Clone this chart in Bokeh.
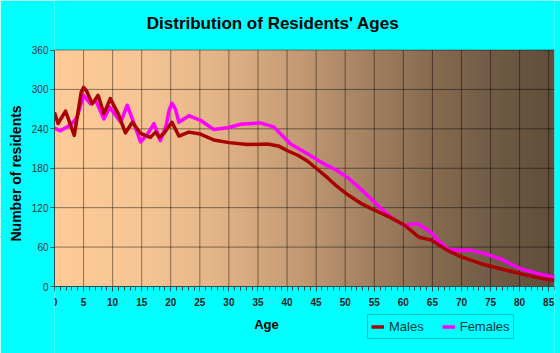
import numpy as np
from bokeh.plotting import figure
from bokeh.models import Range1d, SingleIntervalTicker, FixedTicker, Label, Legend, LegendItem, Title
from bokeh.embed import file_html
from bokeh.resources import INLINE

title_text = "Distribution of Residents' Ages"
x_label = "Age"
y_label = "Number of residents"

x_ticks = [0, 5, 10, 15, 20, 25, 30, 35, 40, 45, 50, 55, 60, 65, 70, 75, 80, 85]
y_ticks = [0, 60, 120, 180, 240, 300, 360]

ages_m = [0, 0.6, 1.9, 3.4, 4.6, 5.0, 5.5, 6.5, 7.5, 8.5, 9.6, 11.0, 12.2, 13.4, 14.8, 16.5, 17.4,
          18.0, 18.8, 20.2, 21.4, 23.1, 25.1, 27.4, 30.0, 33.2, 36.6, 38.5, 40.0, 42.0, 43.5,
          45.0, 46.9, 48.5, 50.4, 52.6, 54.4, 56.1, 58.0, 60.1, 61.5, 62.7, 64.7, 66.0, 67.6,
          70.0, 71.6, 74.0, 76.7, 79.0, 81.3, 84.0, 86.0]
males = [265, 248, 267, 230, 296, 303, 298, 278, 291, 263, 286, 262, 234, 250, 233, 227, 235,
         227, 233, 250, 229, 235, 232, 223, 219, 216, 217, 214, 207, 199, 191,
         180, 166, 153, 140, 127, 119, 112, 104, 94, 84, 75, 71, 64, 55,
         45, 40, 33, 27, 22, 17, 12, 9]

ages_f = [0, 1.0, 2.2, 3.2, 3.9, 5.0, 6.2, 7.1, 8.5, 9.5, 10.4, 11.4, 12.5, 13.6, 14.8,
          16.0, 17.1, 18.2, 19.2, 19.7, 20.2, 20.8, 21.4, 23.1, 25.1, 27.4, 30.0, 32.0, 35.4, 37.7, 40.6,
          43.5, 46.3, 48.5, 50.4, 52.6, 54.4, 56.0, 57.8, 60.1, 62.4, 64.7, 66.0, 67.6, 69.5,
          71.6, 74.0, 76.7, 80.2, 83.0, 86.0]
females = [241, 237, 243, 250, 258, 291, 278, 283, 255, 273, 262, 250, 276, 250, 220,
           232, 248, 222, 245, 268, 279, 270, 250, 260, 253, 239, 242, 247, 249, 243, 217,
           202, 187, 177, 166, 149, 134, 120, 106, 93, 96, 83, 70, 57, 55,
           55, 50, 42, 27, 20, 14]

X_MAX = 86
Y_MAX = 360

# The frame fills the full canvas height; the plot area (0..360) sits between
# pixel rows 49.5 and 286, the x-axis is fixed at y=0, and title / legend /
# axis title live inside the frame around it.
CANVAS_H, PLOT_TOP, PLOT_BOTTOM = 353, 49.5, 286
px_per_unit = (PLOT_BOTTOM - PLOT_TOP) / Y_MAX
y_max = Y_MAX + PLOT_TOP / px_per_unit
y_min = -(CANVAS_H - PLOT_BOTTOM) / px_per_unit

p = figure(width=560, height=353, output_backend="svg", toolbar_location=None, title=None,
           x_range=Range1d(0, X_MAX), y_range=Range1d(y_min, y_max),
           min_border_left=54, min_border_right=6, min_border_top=0, min_border_bottom=0)
p.border_fill_color = "#00FFFF"
p.background_fill_color = "#00FFFF"
p.outline_line_color = None
p.grid.visible = False

# horizontal gradient background of the plot area
stops_x = [0, 15, 25, 35, 45, 55, 65, 75, 86]
stops_c = [(255, 204, 153), (246, 197, 148), (232, 185, 138), (212, 168, 126),
           (187, 148, 112), (160, 127, 96), (135, 107, 80), (114, 92, 70), (95, 78, 58)]
n = 500
xs = np.linspace(0, X_MAX, n)
img = np.zeros((1, n), dtype=np.uint32)
view = img.view(dtype=np.uint8).reshape((1, n, 4))
for ch in range(3):
    view[0, :, ch] = np.interp(xs, stops_x, [c[ch] for c in stops_c]).astype(np.uint8)
view[0, :, 3] = 255
bg = p.image_rgba(image=[img], x=0, y=0, dw=X_MAX, dh=Y_MAX)
bg.level = "image"

# grid lines limited to the plot area
p.segment(x0=x_ticks, y0=[0] * len(x_ticks), x1=x_ticks, y1=[Y_MAX] * len(x_ticks),
          line_color="#000000", line_alpha=0.45, line_width=1)
p.segment(x0=[0] * len(y_ticks), y0=y_ticks, x1=[X_MAX] * len(y_ticks), y1=y_ticks,
          line_color="#000000", line_alpha=0.45, line_width=1)

rf = p.line(ages_f, females, line_color="#FF00FF", line_width=3.5, line_join="round")
rm = p.line(ages_m, males, line_color="#AA0000", line_width=3.5, line_join="round")

# axes
axis_col = "#3A4A4A"
xa = p.xaxis[0]
ya = p.yaxis[0]
xa.fixed_location = 0
xa.ticker = SingleIntervalTicker(interval=5, num_minor_ticks=5)
ya.ticker = FixedTicker(ticks=y_ticks)
ya.bounds = (0, Y_MAX)
for a in (xa, ya):
    a.axis_line_color = axis_col
    a.major_tick_line_color = axis_col
    a.major_tick_in = 0
xa.minor_tick_line_color = axis_col
xa.major_tick_out = 5
xa.minor_tick_in = 0
xa.minor_tick_out = 4
ya.major_tick_out = 4
ya.minor_tick_line_color = None
xa.major_label_text_font = "Liberation Sans"
xa.major_label_text_font_size = "10px"
xa.major_label_text_font_style = "bold"
xa.major_label_text_color = "#222222"
xa.major_label_standoff = 6
ya.major_label_text_font = "Liberation Sans"
ya.major_label_text_font_size = "10px"
ya.major_label_text_color = "#333333"
ya.major_label_standoff = 2

# y axis title (placed along the plot area rather than the whole frame)
yt = Title(text=y_label, align="left", offset=112, standoff=10,
           text_font="Liberation Sans", text_font_size="14px",
           text_font_style="bold", text_color="#000000")
p.add_layout(yt, "left")

# main title
p.add_layout(Label(x=218.5, y=Y_MAX + (PLOT_TOP - 23) / px_per_unit,
                   x_units="screen", y_units="data", text=title_text,
                   text_align="center", text_baseline="middle",
                   text_font="Liberation Sans", text_font_size="17px",
                   text_font_style="bold", text_color="#000000"))

# x axis title
p.add_layout(Label(x=212, y=-(324 - PLOT_BOTTOM) / px_per_unit,
                   x_units="screen", y_units="data", text=x_label,
                   text_align="center", text_baseline="middle",
                   text_font="Liberation Sans", text_font_size="13px",
                   text_font_style="bold", text_color="#000000"))

legend = Legend(items=[LegendItem(label="Males", renderers=[rm]),
                       LegendItem(label="Females", renderers=[rf])],
                location=(313, 14), orientation="horizontal")
legend.background_fill_alpha = 0
legend.border_line_color = "#008080"
legend.border_line_width = 1
legend.padding = 3
legend.margin = 0
legend.spacing = 18
legend.glyph_width = 13
legend.glyph_height = 17
legend.label_height = 17
legend.label_standoff = 5
legend.label_text_font = "Liberation Sans"
legend.label_text_font_size = "13px"
legend.label_text_color = "#003838"
p.add_layout(legend)

open("out.html", "w").write(file_html(p, INLINE))
